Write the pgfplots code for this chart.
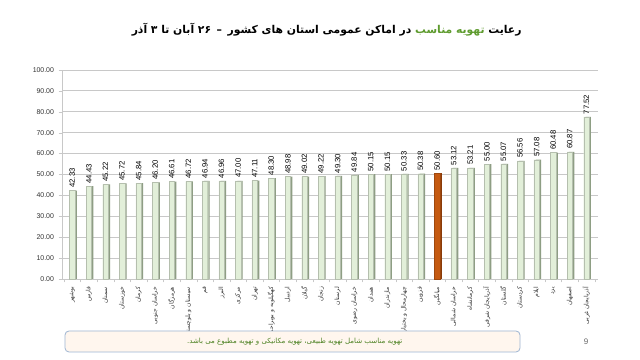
\documentclass[border=0pt]{standalone}
\usepackage{pgfplots}
\pgfplotsset{compat=1.18}
\usepackage{fontspec}
\setmainfont{Liberation Sans}
\newfontfamily\arabicfont[Script=Arabic]{DejaVu Sans}
\TeXXeTstate=1
\definecolor{barfill}{HTML}{E2EFD9}
\definecolor{barshade}{HTML}{8E9E84}
\definecolor{orangebar}{HTML}{C55A11}
\definecolor{orangeshade}{HTML}{8A3A08}
\definecolor{titlegreen}{HTML}{5E9B2E}
\definecolor{boxfill}{HTML}{FFF6EE}
\definecolor{boxborder}{HTML}{9DB5D2}
\definecolor{gridgray}{HTML}{C8C8C8}
\pgfplotstableread{
x y
0 42.33
1 44.43
2 45.22
3 45.72
4 45.84
5 46.20
6 46.61
7 46.72
8 46.94
9 46.96
10 47.00
11 47.11
12 48.30
13 48.98
14 49.02
15 49.22
16 49.30
17 49.84
18 50.15
19 50.15
20 50.33
21 50.38
22 50.60
23 53.12
24 53.21
25 55.00
26 55.07
27 56.56
28 57.08
29 60.48
30 60.87
31 77.52
}\datatable
\begin{document}
\begin{tikzpicture}
\path[fill=white] (0,0) rectangle (480pt,270pt);
\begin{axis}[
  at={(46.5pt,60.75pt)}, anchor=south west,
  scale only axis, width=402pt, height=156.75pt,
  xmin=-0.62, xmax=31.7, ymin=0, ymax=100,
  ytick={0,10,...,100},
  xtick={0,...,31},
  minor xtick={-0.5,0.5,...,31.5},
  xticklabels={{\beginR بوشهر\endR},{\beginR فارس\endR},{\beginR سمنان\endR},{\beginR خوزستان\endR},{\beginR کرمان\endR},{\beginR خراسان جنوبی\endR},{\beginR هرمزگان\endR},{\beginR سیستان و بلوچستان\endR},{\beginR قم\endR},{\beginR البرز\endR},{\beginR مرکزی\endR},{\beginR تهران\endR},{\beginR کهگیلویه و بویراحمد\endR},{\beginR اردبیل\endR},{\beginR گیلان\endR},{\beginR زنجان\endR},{\beginR لرستان\endR},{\beginR خراسان رضوی\endR},{\beginR همدان\endR},{\beginR مازندران\endR},{\beginR چهارمحال و بختیاری\endR},{\beginR قزوین\endR},{\beginR میانگین\endR},{\beginR خراسان شمالی\endR},{\beginR کرمانشاه\endR},{\beginR آذربایجان شرقی\endR},{\beginR گلستان\endR},{\beginR کردستان\endR},{\beginR ایلام\endR},{\beginR یزد\endR},{\beginR اصفهان\endR},{\beginR آذربایجان غربی\endR}},
  xticklabel style={rotate=90, anchor=east, font=\arabicfont\fontsize{4.5}{5}\selectfont, text=black!80},
  yticklabel style={font=\fontsize{5.2}{6}\selectfont, text=black!80,
    /pgf/number format/.cd, fixed, fixed zerofill, precision=2, assume math mode=true},
  axis lines*=left,
  axis line style={gridgray, line width=0.6pt},
  ymajorgrids, grid style={gridgray, line width=0.7pt},
  major x tick style={draw=none},
  minor x tick style={gridgray},
  y tick style={gridgray},
  tick align=outside, major tick length=2.5pt, minor tick length=2.5pt,
  clip=false,
]
\addplot[ybar, bar width=4.1pt, bar shift=1.4pt, fill=barshade, draw=none] table[x=x,y=y] {\datatable};
\addplot[ybar, bar width=4.1pt, bar shift=0pt, fill=barfill, draw=barfill!80!black, line width=0.2pt,
  nodes near coords={\pgfmathprintnumber[fixed,fixed zerofill,precision=2,assume math mode=true]{\pgfplotspointmeta}},
  every node near coord/.append style={rotate=90, anchor=west, font=\fontsize{5.8}{6}\selectfont, text=black, inner sep=2pt}]
  table[x=x,y=y] {\datatable};
\addplot[ybar, bar width=4.1pt, bar shift=1.4pt, fill=orangeshade, draw=none] coordinates {(22,50.60)};
\addplot[ybar, bar width=4.1pt, bar shift=0pt, fill=orangebar, draw=orangebar!80!black, line width=0.2pt] coordinates {(22,50.60)};
\end{axis}
\node[font=\arabicfont\bfseries\fontsize{8.1}{10}\selectfont, inner sep=0pt] at (245pt,247.5pt)
  {{\beginR در اماکن عمومی استان های کشور \,–\, ۲۶ آبان تا ۳ آذر\endR}\ {\color{titlegreen}\beginR تهویه مناسب\endR}\ {\beginR رعایت\endR}};
\draw[rounded corners=3pt, draw=boxborder, fill=boxfill, line width=0.6pt] (48.75pt,6pt) rectangle (390pt,21.75pt);
\node[font=\arabicfont\fontsize{5.3}{6}\selectfont, text=titlegreen!85!black] at (221pt,14pt)
  {\beginR تهویه مناسب شامل تهویه طبیعی، تهویه مکانیکی و تهویه مطبوع می باشد.\endR};
\node[font=\fontsize{6}{7}\selectfont, text=black!60] at (439.5pt,13.5pt) {9};
\end{tikzpicture}
\end{document}
